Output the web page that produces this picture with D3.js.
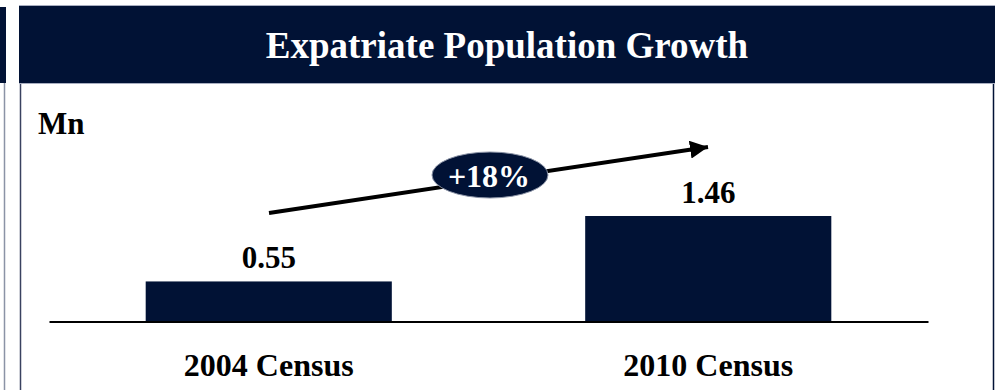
<!DOCTYPE html>
<html><head><meta charset="utf-8">
<script src="https://cdn.jsdelivr.net/npm/d3@7"></script>
<style>html,body{margin:0;padding:0;background:#fff;}svg{display:block;}</style>
</head><body>
<script>
const categories = ["2004 Census", "2010 Census"];
const values = [0.55, 1.46];
const valueLabels = ["0.55", "1.46"];
const title = "Expatriate Population Growth";
const unitLabel = "Mn";
const growthLabel = "+18%";

const W = 995, H = 390;
const navy = "#011235";
const serif = "'Liberation Serif','Times New Roman',serif";

const svg = d3.select("body").append("svg").attr("width", W).attr("height", H);

// left partial panel
svg.append("rect").attr("x", 0).attr("y", 7).attr("width", 6).attr("height", 76).attr("fill", navy);
svg.append("line").attr("x1", 4.5).attr("x2", 4.5).attr("y1", 83).attr("y2", H).attr("stroke", "#8b93a6").attr("stroke-width", 1.5);

// main panel
svg.append("rect").attr("x", 19).attr("y", 5).attr("width", W - 19).attr("height", 78).attr("fill", navy);
svg.append("line").attr("x1", 19).attr("x2", W).attr("y1", 5.5).attr("y2", 5.5).attr("stroke", "#a8aec0").attr("stroke-width", 1);
svg.append("line").attr("x1", 19).attr("x2", W).attr("y1", 83.5).attr("y2", 83.5).attr("stroke", "#a8aec0").attr("stroke-width", 1);
svg.append("line").attr("x1", 20.5).attr("x2", 20.5).attr("y1", 84).attr("y2", H).attr("stroke", "#3a4260").attr("stroke-width", 1.5);
svg.append("line").attr("x1", 993.5).attr("x2", 993.5).attr("y1", 84).attr("y2", H).attr("stroke", navy).attr("stroke-width", 1.5);

svg.append("text").attr("x", 507).attr("y", 58).attr("text-anchor", "middle")
  .attr("font-family", serif).attr("font-weight", "bold").attr("font-size", 37)
  .attr("fill", "#fff").text(title);

svg.append("text").attr("x", 38).attr("y", 134)
  .attr("font-family", serif).attr("font-weight", "bold").attr("font-size", 31)
  .attr("fill", "#000").text(unitLabel);

// scales
const x = d3.scaleBand().domain(categories).range([49, 928]).paddingInner(0.44).paddingOuter(0.22);
const y = d3.scaleLinear().domain([0, 1.46]).range([321, 216]);

svg.selectAll("rect.bar").data(values).join("rect").attr("class", "bar")
  .attr("x", (d, i) => x(categories[i])).attr("width", x.bandwidth())
  .attr("y", d => y(d)).attr("height", d => y(0) - y(d)).attr("fill", navy);

// baseline axis
const axis = d3.axisBottom(x).tickSize(0).tickPadding(0);
const ag = svg.append("g").attr("transform", `translate(0,${y(0) + 0.5})`).call(axis);
ag.select(".domain").attr("stroke", "#000").attr("stroke-width", 2);
ag.selectAll(".tick text").remove();

svg.selectAll("text.cat").data(categories).join("text").attr("class", "cat")
  .attr("x", d => x(d) + x.bandwidth() / 2).attr("y", 376).attr("text-anchor", "middle")
  .attr("font-family", serif).attr("font-weight", "bold").attr("font-size", 32)
  .attr("fill", "#000").text(d => d);

svg.selectAll("text.val").data(values).join("text").attr("class", "val")
  .attr("x", (d, i) => x(categories[i]) + x.bandwidth() / 2).attr("y", d => y(d) - 13)
  .attr("text-anchor", "middle")
  .attr("font-family", serif).attr("font-weight", "bold").attr("font-size", 31)
  .attr("fill", "#000").text((d, i) => valueLabels[i]);

// growth arrow
const defs = svg.append("defs");
defs.append("marker").attr("id", "ah").attr("viewBox", "0 0 10 10").attr("refX", 10).attr("refY", 5)
  .attr("markerWidth", 4.5).attr("markerHeight", 4.5).attr("markerUnits", "strokeWidth").attr("orient", "auto")
  .append("path").attr("d", "M0,0 L10,5 L0,10 Z").attr("fill", "#000");
svg.append("line").attr("x1", 269).attr("y1", 213).attr("x2", 708).attr("y2", 147)
  .attr("stroke", "#000").attr("stroke-width", 4).attr("marker-end", "url(#ah)");

svg.append("ellipse").attr("cx", 490).attr("cy", 175).attr("rx", 58).attr("ry", 23)
  .attr("fill", navy).attr("stroke", "#8b93a6").attr("stroke-width", 1);
svg.append("text").attr("x", 489).attr("y", 187).attr("text-anchor", "middle")
  .attr("font-family", serif).attr("font-weight", "bold").attr("font-size", 32)
  .attr("fill", "#fff").text(growthLabel);
</script>
</body></html>
